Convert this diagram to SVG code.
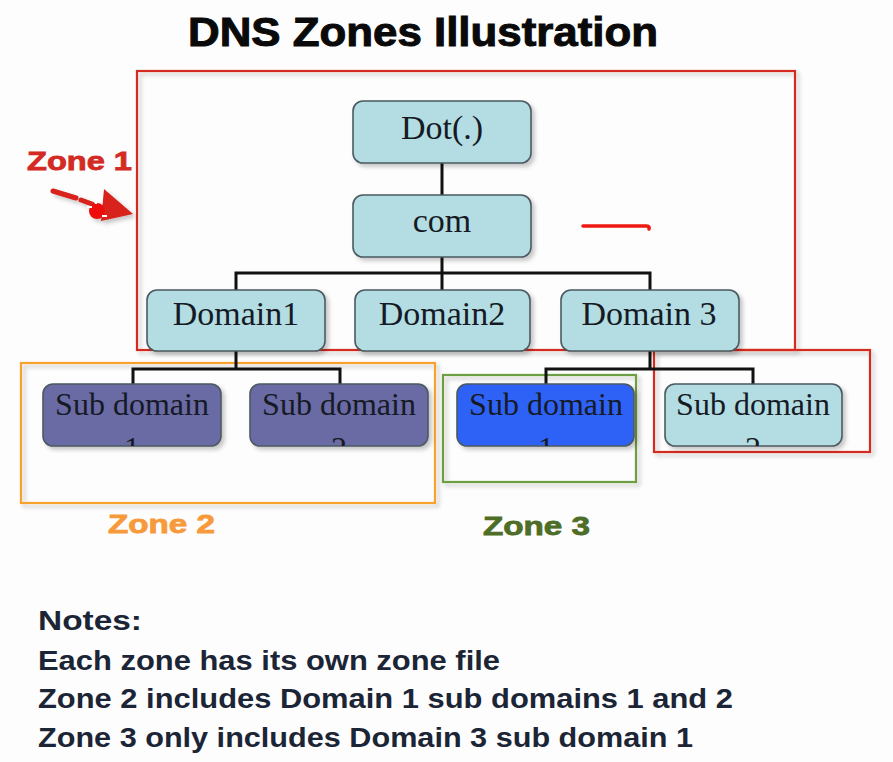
<svg xmlns="http://www.w3.org/2000/svg" width="893" height="762" viewBox="0 0 893 762">
<defs>
<filter id="sh" x="-10%" y="-10%" width="130%" height="130%">
<feDropShadow dx="3" dy="3" stdDeviation="2" flood-color="#000" flood-opacity="0.22"/>
</filter>
<clipPath id="c1"><rect x="43" y="384" width="178" height="62" rx="10"/></clipPath>
<clipPath id="c2"><rect x="250" y="384" width="178" height="62" rx="10"/></clipPath>
<clipPath id="c3"><rect x="457" y="384" width="177" height="62" rx="10"/></clipPath>
<clipPath id="c4"><rect x="665" y="384" width="177" height="62" rx="10"/></clipPath>
</defs>
<style>
.node{stroke:#4b5a60;stroke-width:1.6;filter:url(#sh)}
.lt{fill:#b3dde2}
.pu{fill:#6a6aa4}
.bl{fill:#2e62f6}
.nt{font-family:"Liberation Serif","Times New Roman",serif;font-size:34px;fill:#151a25;text-anchor:middle}
.st{font-family:"Liberation Serif","Times New Roman",serif;font-size:32px;fill:#151a25;text-anchor:middle}
.zone{fill:none;stroke-width:2.2;filter:url(#sh)}
.zl{font-family:"Liberation Sans",Arial,sans-serif;font-weight:bold;font-size:25px;stroke-width:0.8}
.note{font-family:"Liberation Sans",Arial,sans-serif;font-weight:bold;font-size:27px;fill:#1b2535}
.conn{stroke:#111;stroke-width:3;fill:none}
</style>
<rect width="893" height="762" fill="#fdfdfd"/>
<text x="188" y="46" font-family="Liberation Sans,Arial,sans-serif" font-weight="bold" font-size="40" fill="#0a0a0a" stroke="#0a0a0a" stroke-width="1" textLength="470" lengthAdjust="spacingAndGlyphs">DNS Zones Illustration</text>

<g id="zones">
<rect id="zone1-box" class="zone" x="137" y="71" width="658" height="279" stroke="#d42a24"/>
<rect id="zone2-box" class="zone" x="21" y="363" width="414" height="140" stroke="#f7a22e"/>
<rect id="zone3-box" class="zone" x="443" y="375" width="193" height="107" stroke="#6e9e42"/>
<rect id="zone-red-box" class="zone" x="654" y="350" width="216" height="102" stroke="#d42a24"/>
</g>

<g id="connectors">
<path class="conn" d="M442,163 V195"/>
<path class="conn" d="M442,257 V290 M236,290 V273 H650 V290"/>
<path class="conn" d="M236,351 V369 M133,384 V369 H340 V384"/>
<path class="conn" d="M650,351 V369 M546,384 V369 H753 V384"/>
</g>

<g id="dot"><rect class="node lt" x="353" y="101" width="178" height="62" rx="10"/><text class="nt" x="442" y="139" font-size="36">Dot(.)</text></g>
<g id="com"><rect class="node lt" x="353" y="195" width="178" height="62" rx="10"/><text class="nt" x="442" y="232" font-size="36">com</text></g>
<g id="domain1"><rect class="node lt" x="147" y="290" width="178" height="61" rx="10"/><text class="nt" x="236" y="325">Domain1</text></g>
<g id="domain2"><rect class="node lt" x="355" y="290" width="175" height="61" rx="10"/><text class="nt" x="442" y="325">Domain2</text></g>
<g id="domain3"><rect class="node lt" x="561" y="290" width="178" height="61" rx="10"/><text class="nt" x="649" y="325">Domain 3</text></g>

<g id="d1-sub1"><rect class="node pu" x="43" y="384" width="178" height="62" rx="10"/><g clip-path="url(#c1)"><text class="st" x="132" y="415">Sub domain</text><text class="st" x="132" y="459">1</text></g></g>
<g id="d1-sub2"><rect class="node pu" x="250" y="384" width="178" height="62" rx="10"/><g clip-path="url(#c2)"><text class="st" x="339" y="415">Sub domain</text><text class="st" x="339" y="459">2</text></g></g>
<g id="d3-sub1"><rect class="node bl" x="457" y="384" width="177" height="62" rx="10"/><g clip-path="url(#c3)"><text class="st" x="546" y="415">Sub domain</text><text class="st" x="546" y="459">1</text></g></g>
<g id="d3-sub2"><rect class="node lt" x="665" y="384" width="177" height="62" rx="10"/><g clip-path="url(#c4)"><text class="st" x="753" y="415">Sub domain</text><text class="st" x="753" y="459">2</text></g></g>

<g id="zone1-label">
<text class="zl" x="27" y="170" fill="#d42a24" stroke="#d42a24" textLength="105" lengthAdjust="spacingAndGlyphs">Zone 1</text>
<g filter="url(#sh)">
<path d="M53,191 L76,198 M81,200 L92,204" stroke="#d8201c" stroke-width="5" stroke-linecap="round" fill="none"/>
<polygon points="104,189 133,214 101,221" fill="#d8201c"/>
<circle cx="97" cy="211" r="8" fill="#ee1010"/>
<path d="M87,207 h5 M102,216 h5 M96,201 v3" stroke="#fff" stroke-width="2"/>
</g>
</g>
<text id="zone2-label" class="zl" x="108" y="533" fill="#f79a3c" stroke="#f79a3c" textLength="107" lengthAdjust="spacingAndGlyphs">Zone 2</text>
<text id="zone3-label" class="zl" x="483" y="535" fill="#4e6e28" stroke="#4e6e28" textLength="107" lengthAdjust="spacingAndGlyphs">Zone 3</text>

<path id="red-mark" d="M583,226 L646,226 Q650,226 649,229" stroke="#ee1a12" stroke-width="3.5" stroke-linecap="round" fill="none"/>

<g id="notes">
<text class="note" x="38" y="630" textLength="104" lengthAdjust="spacingAndGlyphs">Notes:</text>
<text class="note" x="38" y="670" textLength="462" lengthAdjust="spacingAndGlyphs">Each zone has its own zone file</text>
<text class="note" x="38" y="708" textLength="695" lengthAdjust="spacingAndGlyphs">Zone 2 includes Domain 1 sub domains 1 and 2</text>
<text class="note" x="38" y="747" textLength="655" lengthAdjust="spacingAndGlyphs">Zone 3 only includes Domain 3 sub domain 1</text>
</g>
</svg>
